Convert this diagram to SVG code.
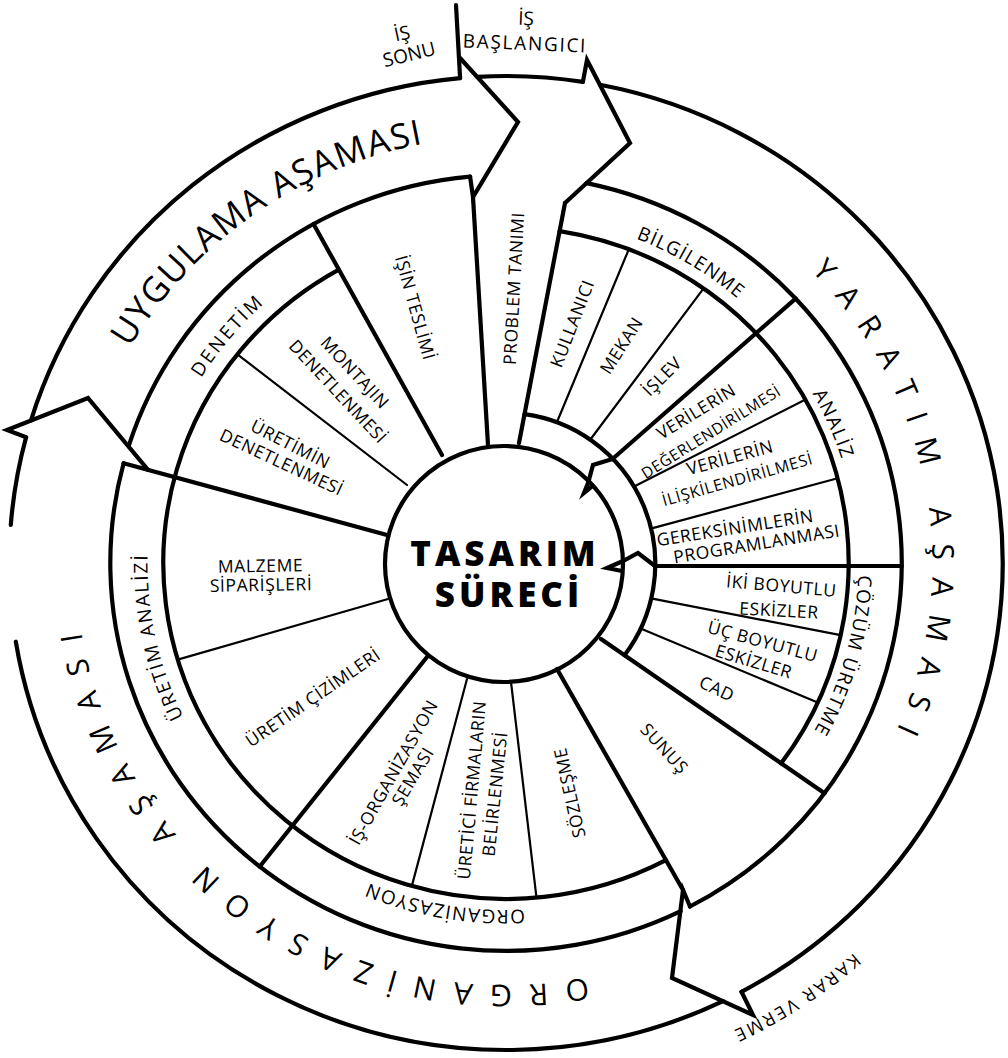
<svg xmlns="http://www.w3.org/2000/svg" width="1008" height="1058" viewBox="0 0 1008 1058">
<defs>
<style>
.k{fill:none;stroke:#000;stroke-width:4.2;stroke-linecap:round;stroke-linejoin:miter;stroke-miterlimit:12}
.t{fill:none;stroke:#000;stroke-width:2.2;stroke-linecap:round}
text{font-family:"Open Sans","Noto Sans",sans-serif;fill:#000}
.lb{font-size:17.5px;letter-spacing:.6px;text-anchor:middle;dominant-baseline:central}
.sp{font-size:19px;letter-spacing:1.4px;text-anchor:middle}
.ph{font-size:30px;letter-spacing:17px;text-anchor:middle}
.ctr{font-weight:800;font-size:35px;letter-spacing:4px;text-anchor:middle}
.top{font-size:19px;text-anchor:middle;dominant-baseline:central}
</style>
<path id="pUyg" d="M84.5,455.4 A435.54,427 0 0 1 540.9,137.4"/>
<path id="pYar" d="M755.4,224 A426.36,418 0 0 1 851.8,807.5"/>
<path id="pOrg" d="M680.4,948.8 A430.44,422 0 0 1 78,518.2"/>
<path id="pKarar" d="M929.4,872.8 A528.36,518 0 0 1 627.1,1067.2"/>
<path id="pDen" d="M159.2,473.8 A358.53,351.5 0 0 1 352.8,245.2"/>
<path id="pBil" d="M544.4,216.5 A355.47,348.5 0 0 1 801.4,369.1"/>
<path id="pAna" d="M740.1,305.4 A351.9,345 0 0 1 857.7,573.2"/>
<path id="pCoz" d="M853.7,506.6 A352.41,345.5 0 0 1 773.6,787.8"/>
<path id="pOrs" d="M597.6,898.2 A353.94,347 0 0 1 303,847.2"/>
<path id="pUra" d="M220.4,775.5 A358.53,351.5 0 0 1 156.4,485.1"/>
</defs>
<rect width="1008" height="1058" fill="#fff"/>

<g id="rings">
<path class="k" d="M599.9,84.8 A496.74,487 0 0 1 741.5,991.8"/>
<path class="k" d="M723,1001.1 A496.74,487 0 0 1 15.8,641.7"/>
<path class="k" d="M10.8,524.8 A496.74,487 0 0 1 26.1,437.3"/>
<path class="k" d="M31,420.3 A496.74,487 0 0 1 460.1,78.1"/>
<path class="k" d="M477.4,76.8 A496.74,487 0 0 1 582.9,81.9"/>
<path class="k" d="M586.5,183.1 A395.76,388 0 0 1 690,906.5"/>
<path class="k" d="M680.7,911.1 A395.76,388 0 0 1 123.6,463.2"/>
<path class="k" d="M128.8,445.7 A395.76,388 0 0 1 470.1,176.6"/>
<path class="k" d="M559.6,231.1 A342.72,336 0 0 1 781.1,763.3"/>
<path class="k" d="M665.9,860.2 A342.72,336 0 0 1 204.8,723.3 A342.72,336 0 0 1 338.8,269.7"/>
<path class="k" d="M524.5,414.2 A151,151 0 0 1 624.5,655.2"/>
</g>

<g id="spokes">
<path class="k" d="M488,445 L473,197"/>
<path class="k" d="M519,443 L565,203"/>
<path class="k" d="M612.5,459 L795.6,298.6"/>
<path class="k" d="M655,566 L901.8,566"/>
<path class="k" d="M601,639 L824.5,793.2"/>
<path class="k" d="M557,669 L683,890"/>
<path class="k" d="M427,657 L259.6,866.7"/>
<path class="k" d="M387,535 L123.6,463.2"/>
<path class="k" d="M442,455 L313.5,224"/>
<path class="t" d="M557,422 L628.8,249.3"/>
<path class="t" d="M590,440 L703.6,288.4"/>
<path class="t" d="M633.6,486.7 L805.5,399.6"/>
<path class="t" d="M650.8,528.6 L837.7,478.3"/>
<path class="t" d="M651,598.4 L840.7,635.2"/>
<path class="t" d="M640.6,628.4 L817.7,702.6"/>
<path class="t" d="M511,682 L536.5,897.7"/>
<path class="t" d="M467,679 L411.8,886.1"/>
<path class="t" d="M388,599 L177.7,659.6"/>
<path class="t" d="M407,485 L237.4,354.3"/>
</g>

<g id="connectors">
<path class="k" d="M456,5 L460.1,78.1"/>
<path class="k" d="M460,58 L518,122 L473,197 L470.1,176.6"/>
<path class="k" d="M582.9,81.9 L587,60 L630,143 L565,203"/>
<path class="k" d="M690,906.5 L683,890 L672,978 L753,1015 L741.5,991.8"/>
<path class="k" d="M26.1,437.3 L7,430 L88,398 L148,469.9"/>
<path class="k" d="M612.5,459 L593,465 L588.3,482.3 L584,493 L591.7,486.7"/>
<path class="k" d="M655,566 L638,553 L623,561 L607,568 L622,571"/>
</g>

<g id="center-node">
<ellipse cx="504" cy="564" rx="119" ry="118" class="k"/>
<text class="ctr" x="505" y="566">TASARIM</text>
<text class="ctr" x="509" y="607">SÜRECİ</text>
</g>

<g id="phase-uygulama"><text style="font-size:35px;letter-spacing:1.5px;text-anchor:middle"><textPath href="#pUyg" startOffset="50%">UYGULAMA AŞAMASI</textPath></text></g>
<g id="phase-yaratim"><text class="ph"><textPath href="#pYar" startOffset="50%">YARATIM AŞAMASI</textPath></text></g>
<g id="phase-organizasyon"><text class="ph" style="letter-spacing:16.8px"><textPath href="#pOrg" startOffset="50%">ORGANİZASYON AŞAMASI</textPath></text></g>
<g id="karar-verme"><text style="font-size:18px;letter-spacing:2.5px;text-anchor:middle"><textPath href="#pKarar" startOffset="50%">KARAR VERME</textPath></text></g>

<g id="is-sonu">
<text class="top" transform="translate(402,33) rotate(-12)">İŞ</text>
<text class="top" transform="translate(409,54) rotate(-14)">SONU</text>
</g>
<g id="is-baslangici">
<text class="top" transform="translate(526,18) rotate(2)">İŞ</text>
<text class="top" style="letter-spacing:1.7px" transform="translate(525,43) rotate(2.4)">BAŞLANGICI</text>
</g>

<g id="sub-denetim"><text class="sp" style="letter-spacing:2.5px"><textPath href="#pDen" startOffset="50%">DENETİM</textPath></text></g>
<g id="sub-bilgilenme"><text class="sp" style="letter-spacing:1px"><textPath href="#pBil" startOffset="50%">BİLGİLENME</textPath></text></g>
<g id="sub-analiz"><text class="sp"><textPath href="#pAna" startOffset="50%">ANALİZ</textPath></text></g>
<g id="sub-cozum"><text class="sp"><textPath href="#pCoz" startOffset="50%">ÇÖZÜM ÜRETME</textPath></text></g>
<g id="sub-organizasyon"><text class="sp" style="letter-spacing:1.3px"><textPath href="#pOrs" startOffset="50%">ORGANİZASYON</textPath></text></g>
<g id="sub-uretim-analizi"><text class="sp" style="letter-spacing:1.8px"><textPath href="#pUra" startOffset="50%">ÜRETİM ANALİZİ</textPath></text></g>

<g id="n-isin-teslimi"><text class="lb" transform="translate(416,307.5) rotate(74.5)">İŞİN TESLİMİ</text></g>
<g id="n-montaj"><text class="lb" transform="translate(355.5,372) rotate(47)">MONTAJIN</text><text class="lb" transform="translate(338.5,391) rotate(47)">DENETLENMESİ</text></g>
<g id="n-uretim-denet"><text class="lb" transform="translate(291,443.5) rotate(27)">ÜRETİMİN</text><text class="lb" transform="translate(282,461.5) rotate(25)">DENETLENMESİ</text></g>
<g id="n-malzeme"><text class="lb" transform="translate(260.5,565) rotate(-1)">MALZEME</text><text class="lb" transform="translate(261,584) rotate(-1)">SİPARİŞLERİ</text></g>
<g id="n-uretim-cizim"><text class="lb" transform="translate(312.5,697) rotate(-34.5)">ÜRETİM ÇİZİMLERİ</text></g>
<g id="n-is-org"><text class="lb" transform="translate(392.5,772) rotate(-60.6)">İŞ-ORGANİZASYON</text><text class="lb" transform="translate(412,776) rotate(-59)">ŞEMASI</text></g>
<g id="n-uretici"><text class="lb" transform="translate(471,790) rotate(-84.8)">ÜRETİCİ FİRMALARIN</text><text class="lb" transform="translate(494,794) rotate(-84)">BELİRLENMESİ</text></g>
<g id="n-sozlesme"><text class="lb" transform="translate(569,793) rotate(-102.5)">SÖZLEŞME</text></g>
<g id="n-sunus"><text class="lb" transform="translate(665,748) rotate(47.6)">SUNUŞ</text></g>
<g id="n-problem"><text class="lb" transform="translate(513,288.5) rotate(-86.8)">PROBLEM TANIMI</text></g>
<g id="n-kullanici"><text class="lb" transform="translate(571.5,323.3) rotate(-68.8)">KULLANICI</text></g>
<g id="n-mekan"><text class="lb" transform="translate(620.7,345) rotate(-57.2)">MEKAN</text></g>
<g id="n-islev"><text class="lb" transform="translate(661.5,375.8) rotate(-44.9)">İŞLEV</text></g>
<g id="n-ver-deg"><text class="lb" transform="translate(695.7,410.8) rotate(-31.5)">VERİLERİN</text><text class="lb" style="font-size:15.5px" transform="translate(710.7,431.7) rotate(-32)">DEĞERLENDİRİLMESİ</text></g>
<g id="n-ver-ilis"><text class="lb" transform="translate(729.8,456.7) rotate(-15.5)">VERİLERİN</text><text class="lb" style="font-size:16px" transform="translate(737.3,479.2) rotate(-15.9)">İLİŞKİLENDİRİLMESİ</text></g>
<g id="n-gereksinim"><text class="lb" transform="translate(735,527) rotate(-9)">GEREKSİNİMLERİN</text><text class="lb" transform="translate(756.5,543) rotate(-9.3)">PROGRAMLANMASI</text></g>
<g id="n-iki-boyut"><text class="lb" transform="translate(781.5,585) rotate(5)">İKİ BOYUTLU</text><text class="lb" transform="translate(779,609.6) rotate(3)">ESKİZLER</text></g>
<g id="n-uc-boyut"><text class="lb" transform="translate(763,640.6) rotate(15.2)">ÜÇ BOYUTLU</text><text class="lb" transform="translate(754,660.7) rotate(16.7)">ESKİZLER</text></g>
<g id="n-cad"><text class="lb" transform="translate(717.3,688) rotate(25)">CAD</text></g>
</svg>
